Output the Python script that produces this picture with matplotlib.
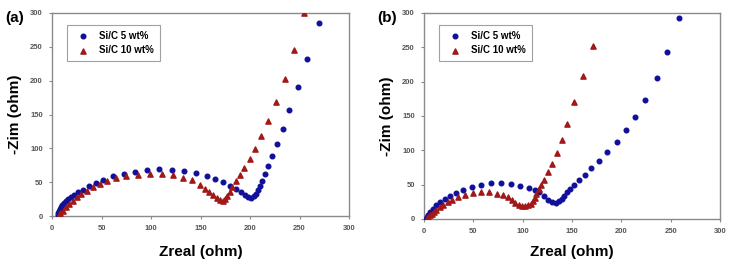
import matplotlib
matplotlib.use('Agg')
import matplotlib.pyplot as plt

plt.rcParams['font.family'] = ['Liberation Sans', 'DejaVu Sans']

# (a) Si/C 5 wt%
a5_x = [6, 6.5, 7, 8, 9, 10, 12, 14, 16, 19, 22, 26, 31, 37, 44, 52, 62, 73, 84, 96,
        108, 121, 133, 145, 156, 165, 173, 180, 186, 191, 195, 198, 201, 204, 206, 208,
        210, 212, 215, 218, 222, 227, 233, 239.5, 248, 257.6, 270]
a5_y = [1, 4, 7, 10, 13, 16, 19, 22, 25, 28, 31, 35, 39, 44, 49, 54, 58.5, 62, 65.5, 68.5,
        69.5, 68.5, 67, 63, 59, 55, 50.5, 45, 40, 35, 30.5, 27.5, 27, 29, 33, 38,
        45, 52.5, 62.6, 74, 89, 106.5, 129, 157, 191, 232, 285]
# (a) Si/C 10 wt%
a10_x = [6.7, 8.4, 11, 14, 17.5, 21, 25, 29.6, 35, 41, 48.4, 56, 65, 75, 86.4, 99, 110.7,
         122, 132.5, 141, 149, 154, 159, 163, 166.5, 170, 172.5, 175, 177, 180, 182,
         185.7, 189.7, 194, 199.5, 205, 211, 217.6, 226, 235, 244, 254.6]
a10_y = [1.5, 3.9, 7.9, 12.8, 17.8, 22.7, 27.6, 32.6, 37.5, 43, 47, 52, 55.7, 59, 61, 62.6, 62.6,
         60, 56, 53, 45.4, 40.5, 36, 31, 26, 23.6, 22.5, 25, 30, 36, 43,
         52, 60, 70.5, 84, 99, 118, 140.6, 169, 203, 245.7, 300]

# (b) Si/C 5 wt%
b5_x = [2.7, 3.4, 4.7, 6.7, 9.4, 12.7, 16.8, 21.5, 26.8, 33, 40, 48.6, 58.3, 68.4, 78.4, 88,
        97.5, 106, 112, 117, 121.7, 125.7, 129.4, 133.4, 136.8, 139.5, 141.8, 144.5, 147.5,
        151.5, 157, 162.6, 169, 177, 185.7, 195.4, 205, 214, 224, 235.7, 246.4, 258.5]
b5_y = [0.5, 3, 6.3, 10, 15, 20, 24.8, 29, 33, 37.4, 42.7, 46.6, 50, 52, 52.4, 51.5,
        48.5, 45.6, 42.7, 38.8, 33, 28, 24.8, 23.3, 25.7, 29, 33, 38.8, 43.7,
        49.5, 56.8, 64.6, 74, 84.5, 97, 112, 129, 148.5, 173, 205, 243.7, 293]
# (b) Si/C 10 wt%
b10_x = [3, 4.4, 6, 8, 10, 12.7, 16, 19.4, 24, 29, 35, 42, 49.6, 58, 66.4, 73.7, 80, 85,
         89, 92.5, 96, 99, 102.6, 105.6, 108, 110, 112, 114, 116.3, 119, 122, 125.4,
         129.4, 134.4, 140, 145, 152, 161, 171]
b10_y = [1, 3, 5, 7.3, 10, 13.6, 17.5, 21, 24.8, 28, 32, 35, 37.9, 38.8, 38.8, 37, 34.5, 32,
         27, 23.3, 20, 18.4, 18.4, 20, 22.3, 25.7, 30.6, 36, 43, 50, 57.3, 68,
         80.6, 95.6, 115.5, 139, 170, 207.8, 252.4]

panels = [
    ('(a)', a5_x, a5_y, a10_x, a10_y, [0.071, 0.169, 0.406, 0.781], 0.007),
    ('(b)', b5_x, b5_y, b10_x, b10_y, [0.579, 0.158, 0.405, 0.792], 0.515),
]

fig = plt.figure(figsize=(7.32, 2.6), dpi=100)
frame = '#8a8a8a'
tick_col = '#555555'

for tag, x5, y5, x10, y10, rect, tag_x in panels:
    ax = fig.add_axes(rect)
    ax.scatter(x5, y5, s=11, marker='o', color='#10109a', label='Si/C 5 wt%', zorder=3)
    ax.scatter(x10, y10, s=14, marker='^', color='#a01818', label='Si/C 10 wt%', zorder=3)
    ax.set_xlim(0, 300)
    ax.set_ylim(0, 300)
    ax.set_xticks(range(0, 301, 50))
    ax.set_yticks(range(0, 301, 50))
    for s in ax.spines.values():
        s.set_color(frame)
        s.set_linewidth(1.0)
    ax.tick_params(direction='out', length=2.5, width=0.8, color=frame,
                   labelsize=5.5, labelcolor=tick_col, pad=4)
    for lbl in ax.get_xticklabels() + ax.get_yticklabels():
        lbl.set_fontweight('bold')

    # подписи осей ставим в координатах фигуры, чтобы совпали по высоте
    ax_h = rect[3] * 260
    ax_bottom_px = 260 * (1 - rect[1])
    xl = ax.set_xlabel('Zreal (ohm)', fontsize=11, fontweight='bold', va='center')
    ax.xaxis.set_label_coords(0.5, -(252 - ax_bottom_px) / ax_h)
    ax.set_ylabel('-Zim (ohm)', fontsize=11, fontweight='bold', labelpad=6)

    leg = ax.legend(loc='upper left', bbox_to_anchor=(0.035, 0.965),
                    prop={'weight': 'bold', 'size': 7}, frameon=True, fancybox=False,
                    edgecolor=frame, handletextpad=0.7, borderpad=0.6,
                    labelspacing=0.45, markerscale=1.0)
    leg.get_frame().set_linewidth(0.8)
    fig.text(tag_x, 0.93, tag, fontsize=11, fontweight='bold', ha='left', va='center')

fig.savefig('out.png', dpi=100)
